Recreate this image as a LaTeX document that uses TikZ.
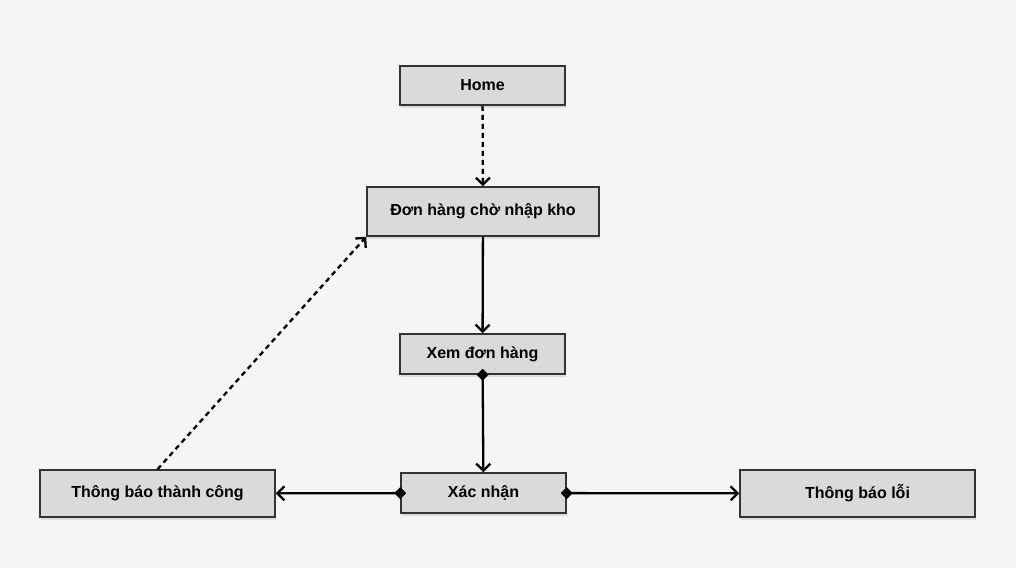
\documentclass[tikz,border=0pt]{standalone}
\usepackage{fontspec}
\setmainfont{Liberation Sans}
\usetikzlibrary{arrows.meta,shadows}
\definecolor{bgcol}{HTML}{F5F5F5}
\definecolor{boxfill}{HTML}{DADADA}
\definecolor{boxline}{HTML}{333333}
\tikzset{
  screen/.style={draw=boxline, line width=1.5pt, fill=boxfill, inner sep=0pt,
    font=\fontsize{16}{19}\selectfont\bfseries,
    drop shadow={opacity=0.2, shadow xshift=1pt, shadow yshift=-3pt}},
  flow/.style={line width=2.3pt, -{Straight Barb[length=7pt,width=14pt,line width=2.3pt]}},
  choice/.style={flow, {Diamond[length=12pt,width=12pt]}-{Straight Barb[length=7pt,width=14pt,line width=2.3pt]}, shorten <=-6pt},
  back/.style={flow, dash pattern=on 5pt off 4pt}
}
\begin{document}
\begin{tikzpicture}[x=1pt, y=-1pt]
\fill[bgcol] (0,0) rectangle (1016,568);
\useasboundingbox (0,0) rectangle (1016,568);
\node [screen, minimum width=165pt, minimum height=39pt] (home) at (482.5,85.5) {Home};
\node [screen, minimum width=232pt, minimum height=49pt] (donhang) at (483,211.5) {Đơn hàng chờ nhập kho};
\node [screen, minimum width=165pt, minimum height=40pt] (xem) at (482.5,354) {Xem đơn hàng};
\node [screen, minimum width=165pt, minimum height=40pt] (xacnhan) at (483.5,493) {Xác nhận};
\node [screen, minimum width=235pt, minimum height=47pt] (thanhcong) at (157.5,493.5) {Thông báo thành công};
\node [screen, minimum width=235pt, minimum height=47pt] (loi) at (857.5,493.5) {Thông báo lỗi};
\draw [back] (home) -- (donhang);
\draw [flow] (donhang) -- (xem);
\draw [choice] (xem) -- (xacnhan);
\draw [choice] (xacnhan) -- (thanhcong);
\draw [choice] (xacnhan) -- (loi);
\draw [back] (thanhcong.north) -- (donhang.south west);
\end{tikzpicture}
\end{document}
